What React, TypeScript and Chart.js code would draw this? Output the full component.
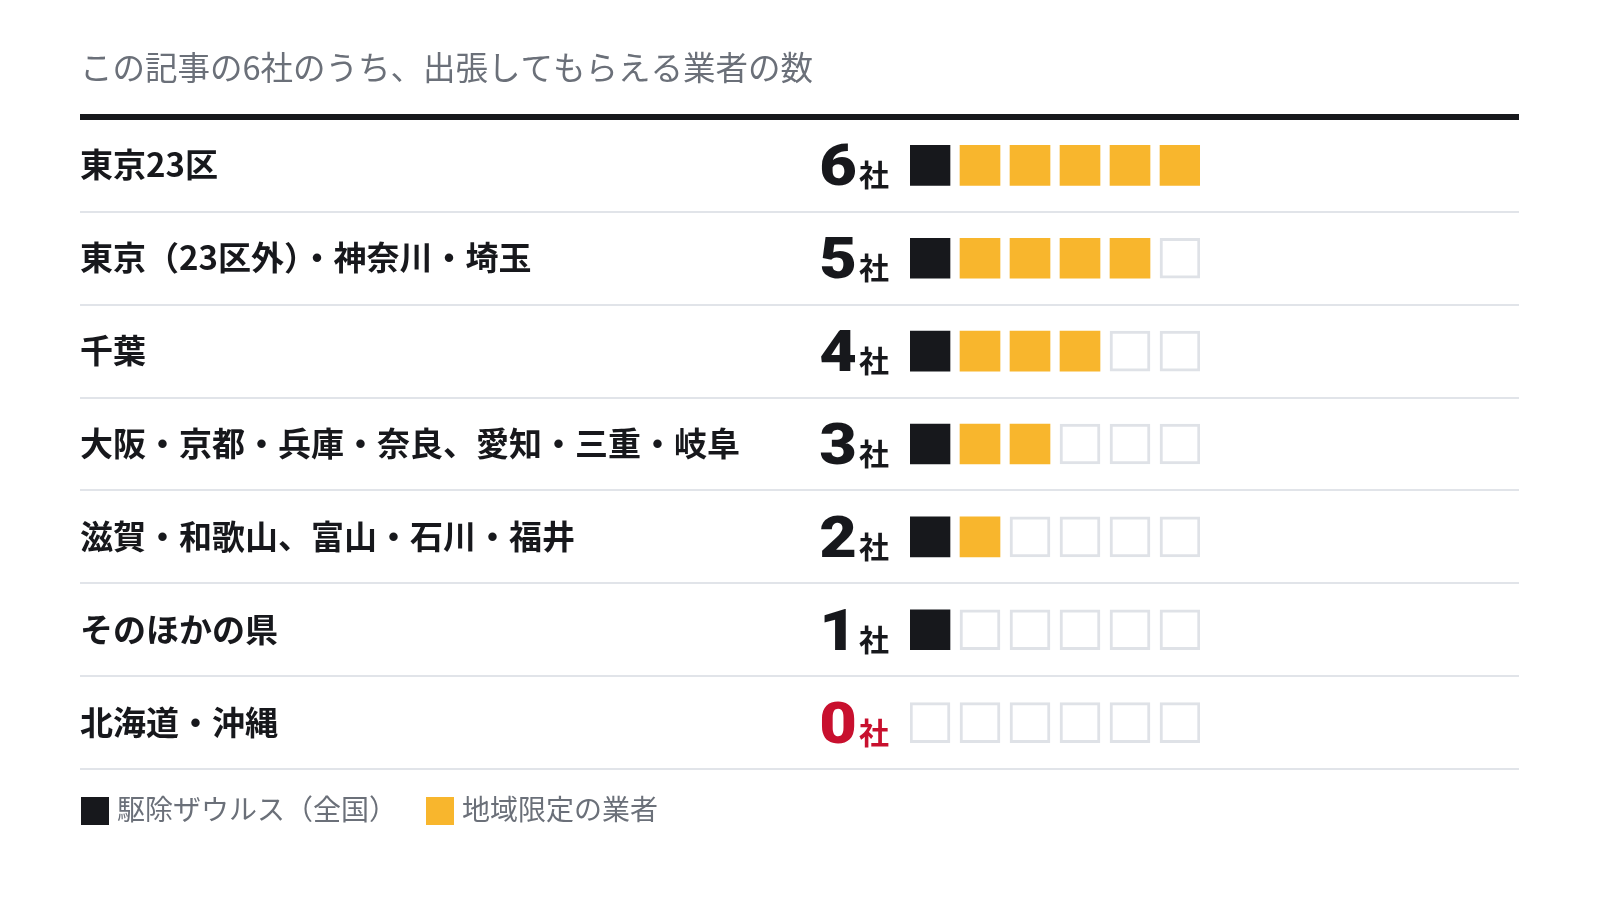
import React, { useEffect, useRef } from "react";
import { Chart, registerables } from "chart.js";

Chart.register(...registerables);

const TITLE = "この記事の6社のうち、出張してもらえる業者の数";
const regions = [
  "東京23区",
  "東京（23区外）・神奈川・埼玉",
  "千葉",
  "大阪・京都・兵庫・奈良、愛知・三重・岐阜",
  "滋賀・和歌山、富山・石川・福井",
  "そのほかの県",
  "北海道・沖縄",
];
const nationalCounts = [1, 1, 1, 1, 1, 1, 0];
const localCounts = [5, 4, 3, 2, 1, 0, 0];
const maxCompanies = 6;
const unitLabel = "社";
const legendLabels = ["駆除ザウルス（全国）", "地域限定の業者"];

const BLACK = "#17181c";
const ORANGE = "#f8b62d";
const EMPTY_BORDER = "#dfe2e7";
const RED = "#c8102e";
const GRAY_TEXT = "#6b7079";
const SEP = "#e1e4e9";
const JP = '"Noto Sans CJK JP", "Noto Sans", sans-serif';

export default function App() {
  const ref = useRef<HTMLCanvasElement | null>(null);

  useEffect(() => {
    if (!ref.current) return;
    const totals = regions.map((_, i) => nationalCounts[i] + localCounts[i]);

    const squareColor = (row: number, slot: number) => {
      if (slot < nationalCounts[row]) return BLACK;
      if (slot < totals[row]) return ORANGE;
      return "#ffffff";
    };

    const datasets = Array.from({ length: maxCompanies }, (_, slot) => ({
      label: "slot" + slot,
      data: regions.map(() => [slot, slot + 0.8]),
      backgroundColor: (c: any) => squareColor(c.dataIndex, slot),
      borderColor: (c: any) =>
        slot < totals[c.dataIndex] ? squareColor(c.dataIndex, slot) : EMPTY_BORDER,
      borderWidth: (c: any) => (slot < totals[c.dataIndex] ? 0 : 3),
      borderSkipped: false as const,
      barThickness: 40,
      grouped: false,
    }));

    const decor = {
      id: "decor",
      beforeDraw(chart: any) {
        const ctx = chart.ctx as CanvasRenderingContext2D;
        const y = chart.scales.y;
        const area = chart.chartArea;
        const band = (area.bottom - area.top) / regions.length;
        ctx.save();
        ctx.fillStyle = "#ffffff";
        ctx.fillRect(0, 0, chart.width, chart.height);

        // title
        ctx.fillStyle = GRAY_TEXT;
        ctx.font = `400 32.5px ${JP}`;
        ctx.textAlign = "left";
        ctx.textBaseline = "alphabetic";
        ctx.fillText(TITLE, 80, 80);

        // thick top rule
        ctx.fillStyle = BLACK;
        ctx.fillRect(80, 114, 1439, 6);

        regions.forEach((name, i) => {
          const cy = y.getPixelForValue(i);
          // separator
          ctx.fillStyle = SEP;
          ctx.fillRect(80, Math.round(cy + band / 2) - 1, 1439, 2);
          // label
          ctx.fillStyle = BLACK;
          ctx.font = `700 33px ${JP}`;
          ctx.textAlign = "left";
          ctx.fillText(name, 80, cy + 12);
          // number
          const total = totals[i];
          ctx.fillStyle = total === 0 ? RED : BLACK;
          ctx.save();
          ctx.translate(857, cy + 20);
          ctx.scale(1.12, 1);
          ctx.font = `900 58px Roboto, sans-serif`;
          ctx.textAlign = "right";
          ctx.fillText(String(total), 0, 0);
          ctx.restore();
          ctx.textAlign = "right";
          ctx.font = `700 30px ${JP}`;
          ctx.fillText(unitLabel, 889, cy + 21);
        });

        // legend
        ctx.textAlign = "left";
        ctx.fillStyle = BLACK;
        ctx.fillRect(81, 797, 28, 28);
        ctx.fillStyle = ORANGE;
        ctx.fillRect(426, 797, 28, 28);
        ctx.fillStyle = GRAY_TEXT;
        ctx.font = `400 28px ${JP}`;
        ctx.fillText(legendLabels[0], 117, 820);
        ctx.fillText(legendLabels[1], 462, 820);
        ctx.restore();
      },
    };

    const chart = new Chart(ref.current, {
      type: "bar",
      data: { labels: regions, datasets: datasets as any },
      options: {
        indexAxis: "y",
        animation: false,
        responsive: false,
        devicePixelRatio: 1,
        layout: { padding: { left: 910, right: 400, top: 119, bottom: 131 } },
        scales: {
          x: { type: "linear", min: 0, max: 5.8, display: false },
          y: { type: "category", display: false, offset: true },
        },
        plugins: {
          legend: { display: false },
          tooltip: { enabled: false },
        },
      },
      plugins: [decor],
    });
    return () => chart.destroy();
  }, []);

  return (
    <div style={{ position: "absolute", left: 0, top: 0, width: 1600, height: 900, background: "#fff" }}>
      <canvas ref={ref} width={1600} height={900} style={{ display: "block" }} />
    </div>
  );
}
